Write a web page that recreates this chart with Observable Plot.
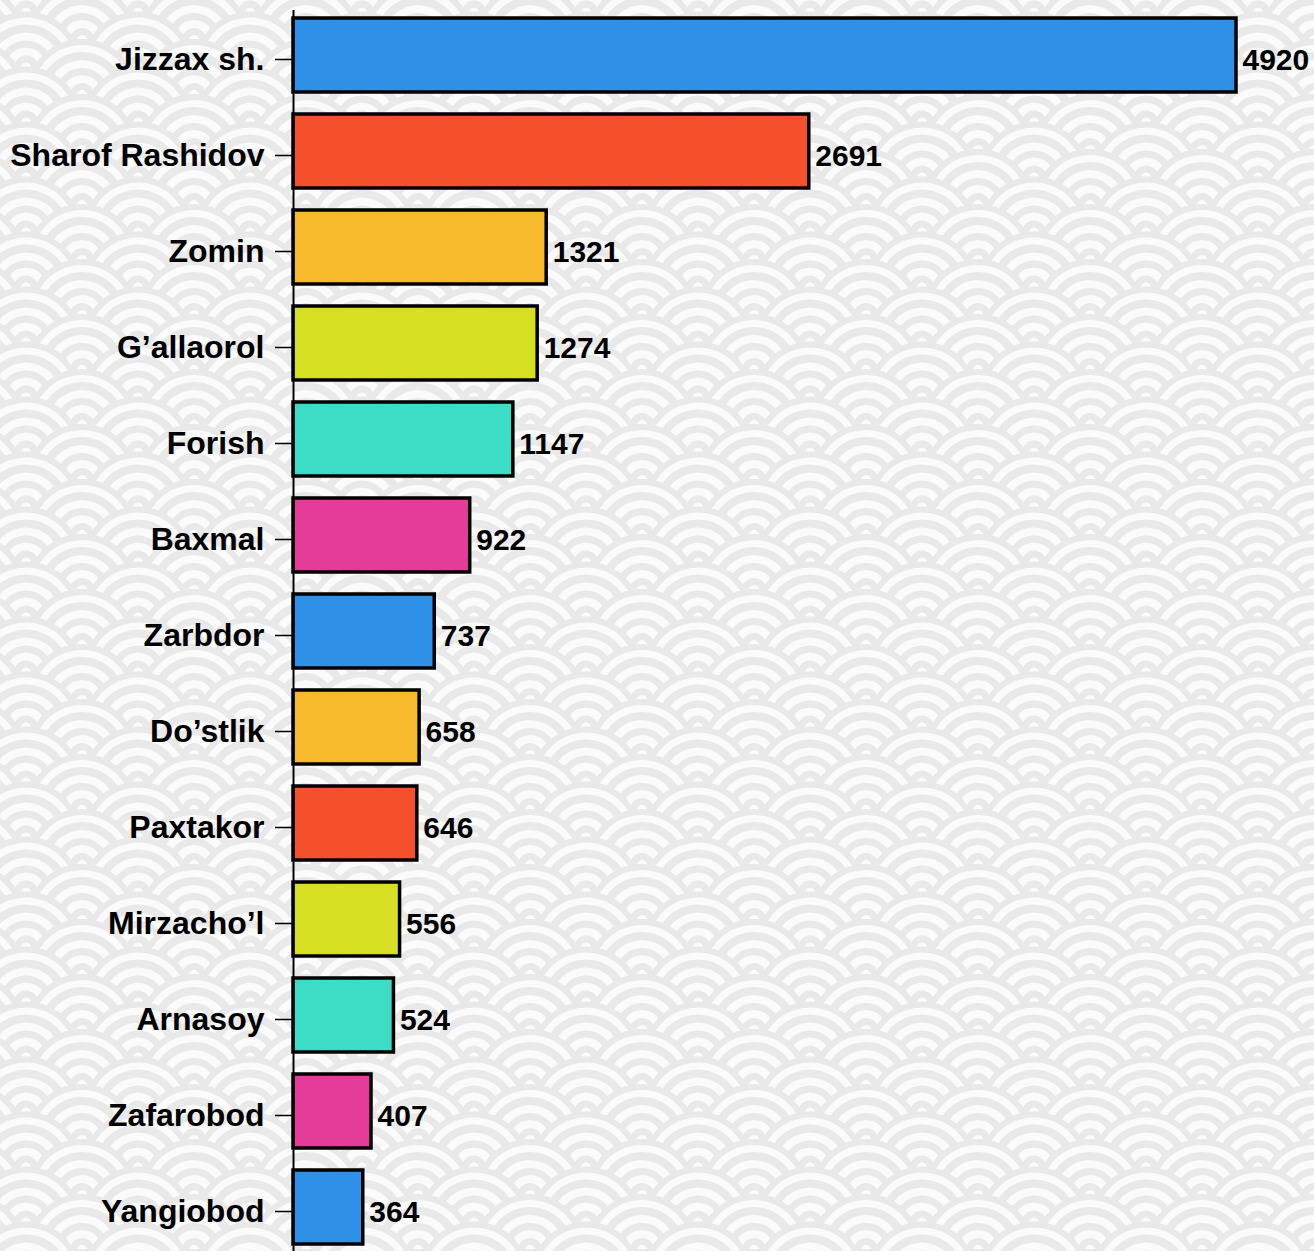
<!DOCTYPE html>
<html>
<head>
<meta charset="utf-8">
<script src="https://cdn.jsdelivr.net/npm/d3@7"></script>
<script src="https://cdn.jsdelivr.net/npm/@observablehq/plot@0.6"></script>
<style>
html, body { margin: 0; padding: 0; overflow: hidden; }
body { width: 1314px; height: 1251px; background-color: #fafafa; }
#chart svg { display: block; overflow: visible; }
</style>
</head>
<body>
<div id="chart"></div>
<script>
const districts = ["Jizzax sh.", "Sharof Rashidov", "Zomin", "G\u2019allaorol", "Forish", "Baxmal", "Zarbdor", "Do\u2019stlik", "Paxtakor", "Mirzacho\u2019l", "Arnasoy", "Zafarobod", "Yangiobod"];
const values = [4920, 2691, 1321, 1274, 1147, 922, 737, 658, 646, 556, 524, 407, 364];
const barColors = ["#2f90e8", "#f5502c", "#f6ba2c", "#d6df22", "#3ddcc4", "#e43c98", "#2f90e8", "#f6ba2c", "#f5502c", "#d6df22", "#3ddcc4", "#e43c98", "#2f90e8"];

// decorative seigaiha background tile (wave scales)
(function () {
  const W = 112, H = 55;
  const grey = "#e9e9e9", white = "#fbfbfb";
  const rings = [[56, grey], [50, white], [43, grey], [35, white], [27, grey], [20, white], [12, grey], [5, white]];
  let s = `<svg xmlns="http://www.w3.org/2000/svg" width="${W}" height="${H}">`;
  for (let row = -1; row <= 4; row++) {
    const y = row * H / 2;
    const xs = (row % 2 === 0) ? [0, W] : [-W / 2, W / 2, W * 1.5];
    for (const x of xs) for (const [r, c] of rings) s += `<circle cx="${x}" cy="${y}" r="${r}" fill="${c}"/>`;
  }
  s += `</svg>`;
  document.body.style.backgroundImage = `url("data:image/svg+xml,${encodeURIComponent(s)}")`;
  document.body.style.backgroundSize = `${W}px ${H}px`;
  document.body.style.backgroundPosition = `82px 40px`;
})();

const data = districts.map((d, i) => ({district: d, value: values[i], color: barColors[i]}));

const chart = Plot.plot({
  width: 1314,
  height: 1253,
  marginLeft: 293,
  marginRight: 78,
  marginTop: 10,
  marginBottom: 0,
  style: {background: "transparent", fontFamily: "'Liberation Sans', Arial, sans-serif", fontWeight: "bold", color: "#000", overflow: "visible"},
  x: {domain: [0, 4920], axis: null},
  y: {domain: districts, paddingInner: 0.225, paddingOuter: 0.086, label: null, axis: null},
  color: {type: "identity"},
  marks: [
    Plot.barX(data, {x: "value", y: "district", fill: "color", stroke: "#000", strokeWidth: 3.5}),
    Plot.text(data, {x: "value", y: "district", text: d => String(d.value), textAnchor: "start", dx: 6, dy: 5, fontSize: 30, fontWeight: "bold", fill: "#000"}),
    Plot.axisY({tickSize: 18, tickPadding: 11, fontSize: 32, fontWeight: "bold", label: null, strokeWidth: 1.5, stroke: "#000", fill: "#000", dy: 4}),
    Plot.ruleX([0], {stroke: "#000", strokeWidth: 2})
  ]
});
document.getElementById("chart").appendChild(chart);
</script>
</body>
</html>
